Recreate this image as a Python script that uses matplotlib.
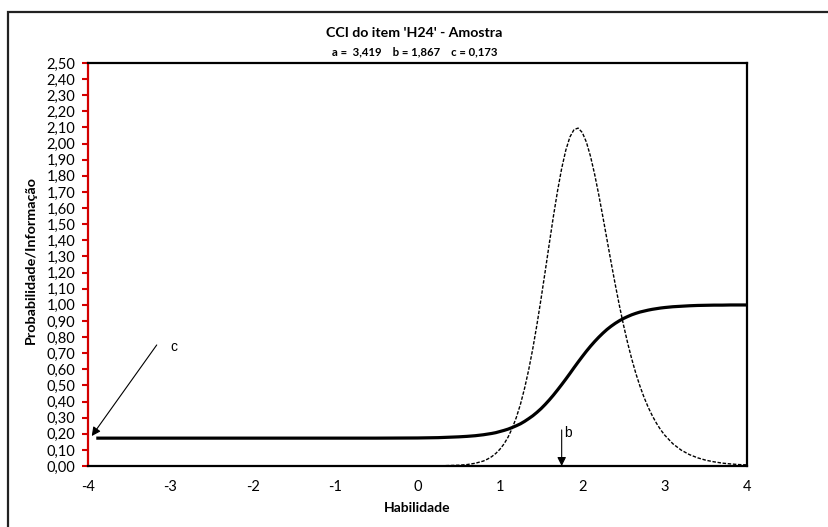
import matplotlib.pyplot as plt
from matplotlib.patches import Rectangle

# habilidade (theta) e valores
theta = [-3.9, -3.0, -2.0, -1.0, -0.5, 0.0, 0.25, 0.5, 0.6, 0.7, 0.8, 0.85, 0.9, 0.95,
         1.0, 1.05, 1.1, 1.15, 1.2, 1.25, 1.3, 1.35, 1.4, 1.45, 1.5, 1.55, 1.6, 1.65,
         1.7, 1.75, 1.8, 1.85, 1.9, 1.95, 2.0, 2.05, 2.1, 2.15, 2.2, 2.25, 2.3, 2.35,
         2.4, 2.45, 2.5, 2.55, 2.6, 2.65, 2.7, 2.75, 2.8, 2.85, 2.9, 2.95, 3.0, 3.1,
         3.2, 3.3, 3.4, 3.5, 3.6, 3.7, 3.8, 3.9, 4.0]
prob = [0.173, 0.173, 0.173, 0.173, 0.173, 0.174, 0.176, 0.181, 0.184, 0.188, 0.194, 0.198,
        0.202, 0.207, 0.214, 0.221, 0.229, 0.239, 0.250, 0.262, 0.277, 0.294, 0.312, 0.333,
        0.356, 0.382, 0.410, 0.440, 0.472, 0.505, 0.539, 0.574, 0.610, 0.645, 0.679, 0.712,
        0.743, 0.772, 0.799, 0.824, 0.847, 0.867, 0.885, 0.901, 0.915, 0.927, 0.938, 0.947,
        0.955, 0.961, 0.967, 0.972, 0.976, 0.980, 0.983, 0.988, 0.991, 0.994, 0.996, 0.997,
        0.998, 0.998, 0.999, 0.999, 0.999]
info = [0.000, 0.000, 0.000, 0.000, 0.000, 0.000, 0.001, 0.005, 0.009, 0.017, 0.031, 0.043,
        0.058, 0.078, 0.104, 0.137, 0.180, 0.235, 0.302, 0.384, 0.483, 0.598, 0.730, 0.878,
        1.039, 1.208, 1.381, 1.550, 1.707, 1.846, 1.959, 2.041, 2.087, 2.096, 2.069, 2.009,
        1.921, 1.810, 1.683, 1.546, 1.405, 1.263, 1.127, 0.997, 0.876, 0.765, 0.665, 0.575,
        0.496, 0.426, 0.365, 0.312, 0.266, 0.226, 0.192, 0.138, 0.099, 0.071, 0.051, 0.036,
        0.026, 0.018, 0.013, 0.009, 0.007]

xticks = [-4, -3, -2, -1, 0, 1, 2, 3, 4]
yticks = [i / 10 for i in range(26)]
ytick_labels = [f"{v:.2f}".replace(".", ",") for v in yticks]

plt.rcParams['font.family'] = ['Lato', 'DejaVu Sans']

fig = plt.figure(figsize=(8.29, 5.27), dpi=100)
ax = fig.add_axes([0.1062, 0.1157, 0.7949, 0.7648])

ax.plot(theta, info, color='black', lw=1.0, linestyle=(0, (2.5, 1.2)))
ax.plot(theta, prob, color='black', lw=2.3, solid_capstyle='butt')

ax.set_xlim(-4, 4)
ax.set_ylim(0, 2.5)
ax.set_xticks(xticks)
ax.set_xticklabels([str(v) for v in xticks], fontsize=10.5)
ax.set_yticks(yticks)
ax.set_yticklabels(ytick_labels, fontsize=10.5)
ax.tick_params(axis='x', length=0, pad=10)
ax.tick_params(axis='y', length=4, width=1.5, color='#d40000', pad=5)

for side in ['top', 'right', 'bottom']:
    ax.spines[side].set_linewidth(1.6)
    ax.spines[side].set_color('black')
ax.spines['left'].set_linewidth(1.6)
ax.spines['left'].set_color('#d40000')

ax.set_xlabel('Habilidade', fontsize=10, fontweight='bold', labelpad=6)
ax.set_ylabel('Probabilidade/Informação', fontsize=10.4, fontweight='bold', labelpad=6)
ax.yaxis.set_label_coords(-0.078, 0.51)

fig.text(0.5, 0.937, "CCI do item 'H24' - Amostra", ha='center', va='center',
         fontsize=10.2, fontweight='bold')
fig.text(0.5, 0.901, "a =  3,419    b = 1,867    c = 0,173", ha='center', va='center',
         fontsize=8.2, fontweight='bold')

arrow = dict(arrowstyle='-|>', color='black', lw=0.8, mutation_scale=13, shrinkA=0, shrinkB=0)
ax.annotate('', xy=(-3.955, 0.186), xytext=(-3.166, 0.751), arrowprops=arrow)
ax.text(-3.0, 0.74, 'c', fontsize=10, family='Liberation Sans', va='center', ha='left')
ax.annotate('', xy=(1.75, 0.0), xytext=(1.75, 0.224), arrowprops=arrow)
ax.text(1.78, 0.205, 'b', fontsize=10, family='Liberation Sans', va='center', ha='left')

fig.patches.append(Rectangle((8 / 829, -0.1), 1.2, 0.1 + (527 - 12) / 527,
                             transform=fig.transFigure, fill=False,
                             edgecolor='#222222', lw=1.6))

fig.savefig('out.png', dpi=100)
